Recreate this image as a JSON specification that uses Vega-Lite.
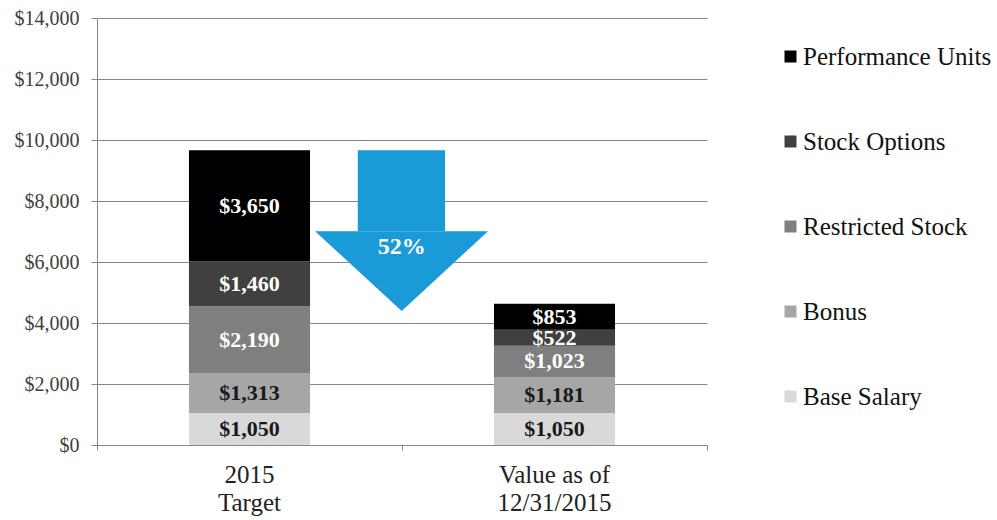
{
  "$schema": "https://vega.github.io/schema/vega-lite/v6.json",
  "width": 610,
  "height": 427,
  "autosize": {"type": "none"},
  "padding": {"left": 97, "top": 18, "right": 290, "bottom": 75},
  "background": "white",
  "config": {"view": {"stroke": null}, "font": "Liberation Serif"},
  "datasets": {
    "comp": [
      {"period": "2015 Target", "component": "Base Salary", "value": 1050},
      {"period": "2015 Target", "component": "Bonus", "value": 1313},
      {"period": "2015 Target", "component": "Restricted Stock", "value": 2190},
      {"period": "2015 Target", "component": "Stock Options", "value": 1460},
      {"period": "2015 Target", "component": "Performance Units", "value": 3650},
      {"period": "Value as of 12/31/2015", "component": "Base Salary", "value": 1050},
      {"period": "Value as of 12/31/2015", "component": "Bonus", "value": 1181},
      {"period": "Value as of 12/31/2015", "component": "Restricted Stock", "value": 1023},
      {"period": "Value as of 12/31/2015", "component": "Stock Options", "value": 522},
      {"period": "Value as of 12/31/2015", "component": "Performance Units", "value": 853}
    ],
    "shaft": [{"x1": 0.855, "x2": 1.141, "y1": 7010, "y2": 9663}],
    "head": [
      {"x": 0.715, "y": 7010, "y2": 7010},
      {"x": 0.999, "y": 4393, "y2": 7010},
      {"x": 1.282, "y": 7010, "y2": 7010}
    ],
    "note": [{"x": 0.999, "y": 6500, "label": "52%"}]
  },
  "layer": [
    {
      "data": {"name": "comp"},
      "transform": [
        {"calculate": "datum.component == 'Base Salary' ? 0 : datum.component == 'Bonus' ? 1 : datum.component == 'Restricted Stock' ? 2 : datum.component == 'Stock Options' ? 3 : 4", "as": "rank"},
        {"stack": "value", "groupby": ["period"], "sort": [{"field": "rank", "order": "ascending"}], "as": ["v0", "v1"]},
        {"calculate": "(datum.v0 + datum.v1) / 2", "as": "mid"}
      ],
      "encoding": {
        "x": {
          "field": "period",
          "type": "nominal",
          "sort": null,
          "scale": {"paddingInner": 0.603, "paddingOuter": 0.3015},
          "axis": {
            "title": null,
            "labelAngle": 0,
            "labelExpr": "datum.value == '2015 Target' ? ['2015', 'Target'] : ['Value as of', '12/31/2015']",
            "labelFont": "Liberation Serif",
            "labelFontSize": 25,
            "labelLineHeight": 28,
            "labelColor": "#222222",
            "labelPadding": 17,
            "ticks": false,
            "domainColor": "#868686",
            "grid": false
          }
        }
      },
      "layer": [
        {
          "mark": {"type": "bar"},
          "encoding": {
            "y": {
              "field": "v0",
              "type": "quantitative",
              "scale": {"domain": [0, 14000]},
              "axis": {
                "title": null,
                "values": [0, 2000, 4000, 6000, 8000, 10000, 12000, 14000],
                "format": "$,.0f",
                "labelFont": "Liberation Serif",
                "labelFontSize": 20,
                "labelColor": "#404040",
                "labelPadding": 12,
                "tickSize": 6,
                "tickColor": "#868686",
                "domainColor": "#868686",
                "gridColor": "#868686"
              }
            },
            "y2": {"field": "v1"},
            "color": {
              "field": "component",
              "type": "nominal",
              "scale": {
                "domain": ["Performance Units", "Stock Options", "Restricted Stock", "Bonus", "Base Salary"],
                "range": ["#000000", "#404040", "#7f7f7f", "#a6a6a6", "#d9d9d9"]
              },
              "legend": {
                "orient": "none",
                "legendX": 681,
                "legendY": 26,
                "title": null,
                "symbolType": "square",
                "symbolSize": 144,
                "symbolStrokeWidth": 0,
                "labelFont": "Liberation Serif",
                "labelFontSize": 25,
                "labelColor": "#111111",
                "labelOffset": 0,
                "labelLimit": 400,
                "rowPadding": 59,
                "padding": 0
              }
            }
          }
        },
        {
          "mark": {"type": "text", "font": "Liberation Serif", "fontWeight": "bold", "fontSize": 22, "align": "center", "baseline": "middle"},
          "encoding": {
            "y": {"field": "mid", "type": "quantitative", "title": null},
            "text": {"field": "value", "type": "quantitative", "format": "$,.0f"},
            "color": {"condition": {"test": "datum.rank >= 2", "value": "#ffffff"}, "value": "#1a1a1a"}
          }
        }
      ]
    },
    {
      "data": {"name": "shaft"},
      "mark": {"type": "rect", "color": "#1a9ad6"},
      "encoding": {
        "x": {
          "field": "x1",
          "type": "quantitative",
          "scale": {"domain": [0, 2]},
          "axis": {"orient": "bottom", "values": [0, 1, 2], "labels": false, "domain": false, "grid": false, "tickSize": 5, "tickColor": "#868686", "title": null}
        },
        "x2": {"field": "x2"},
        "y": {"field": "y1", "type": "quantitative", "axis": null},
        "y2": {"field": "y2"}
      }
    },
    {
      "data": {"name": "head"},
      "mark": {"type": "area", "color": "#1a9ad6", "orient": "vertical", "interpolate": "linear"},
      "encoding": {
        "x": {"field": "x", "type": "quantitative", "scale": {"domain": [0, 2]}, "axis": null},
        "y": {"field": "y", "type": "quantitative", "axis": null},
        "y2": {"field": "y2"}
      }
    },
    {
      "data": {"name": "note"},
      "mark": {"type": "text", "font": "Liberation Serif", "fontWeight": "bold", "fontSize": 24, "color": "#ffffff", "align": "center", "baseline": "middle"},
      "encoding": {
        "x": {"field": "x", "type": "quantitative", "scale": {"domain": [0, 2]}, "axis": null},
        "y": {"field": "y", "type": "quantitative", "axis": null},
        "text": {"field": "label"}
      }
    }
  ],
  "resolve": {"scale": {"x": "independent"}, "axis": {"y": "independent"}}
}
